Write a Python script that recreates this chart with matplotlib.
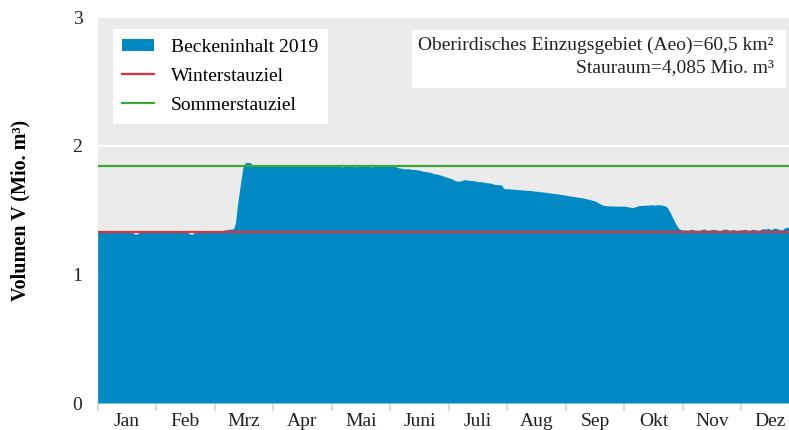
import matplotlib
matplotlib.use("Agg")
import matplotlib.pyplot as plt
from matplotlib.patches import Patch, Rectangle
from matplotlib.lines import Line2D
import numpy as np

# Monatsnamen
monate = ["Jan", "Feb", "Mrz", "Apr", "Mai", "Juni", "Juli", "Aug", "Sep", "Okt", "Nov", "Dez"]

# Beckeninhalt 2019, Tageswerte in Mio. m³
jan = [1.335, 1.34, 1.335, 1.33, 1.34, 1.335, 1.33, 1.335, 1.34, 1.335, 1.33, 1.335, 1.34, 1.335,
       1.33, 1.335, 1.34, 1.335, 1.33, 1.32, 1.31, 1.315, 1.325, 1.335, 1.34, 1.335, 1.33, 1.335,
       1.34, 1.335, 1.33]
feb = [1.335, 1.34, 1.335, 1.33, 1.335, 1.34, 1.335, 1.33, 1.335, 1.34, 1.335, 1.33, 1.335, 1.34,
       1.335, 1.325, 1.315, 1.31, 1.32, 1.335, 1.34, 1.335, 1.33, 1.335, 1.34, 1.335, 1.335, 1.34]
mrz = [1.335, 1.335, 1.34, 1.335, 1.34, 1.345, 1.345, 1.35, 1.35, 1.352, 1.355, 1.40, 1.53, 1.64,
       1.74, 1.83, 1.865, 1.87, 1.87, 1.865, 1.85, 1.845, 1.84, 1.845, 1.84, 1.845, 1.85, 1.84,
       1.845, 1.84, 1.845]
apr = [1.845, 1.84, 1.845, 1.845, 1.85, 1.84, 1.845, 1.845, 1.84, 1.845, 1.85, 1.845, 1.84, 1.845,
       1.845, 1.85, 1.852, 1.85, 1.845, 1.84, 1.845, 1.845, 1.84, 1.845, 1.845, 1.84, 1.845, 1.84,
       1.845, 1.845]
mai = [1.84, 1.845, 1.84, 1.84, 1.845, 1.84, 1.835, 1.84, 1.845, 1.84, 1.84, 1.845, 1.84, 1.835,
       1.84, 1.84, 1.845, 1.84, 1.84, 1.845, 1.84, 1.835, 1.84, 1.845, 1.84, 1.84, 1.845, 1.845,
       1.85, 1.85, 1.845]
jun = [1.845, 1.845, 1.84, 1.835, 1.83, 1.825, 1.825, 1.82, 1.82, 1.82, 1.82, 1.815, 1.815, 1.815,
       1.81, 1.81, 1.805, 1.80, 1.80, 1.795, 1.795, 1.79, 1.785, 1.78, 1.78, 1.775, 1.77, 1.765,
       1.76, 1.755]
jul = [1.75, 1.745, 1.74, 1.73, 1.725, 1.725, 1.725, 1.73, 1.735, 1.735, 1.733, 1.73, 1.73, 1.728,
       1.725, 1.722, 1.72, 1.72, 1.718, 1.715, 1.712, 1.71, 1.71, 1.705, 1.70, 1.698, 1.697, 1.696,
       1.695, 1.67, 1.665]
aug = [1.665, 1.665, 1.663, 1.662, 1.66, 1.66, 1.658, 1.657, 1.656, 1.655, 1.653, 1.652, 1.652, 1.65,
       1.648, 1.646, 1.645, 1.643, 1.641, 1.64, 1.638, 1.636, 1.634, 1.632, 1.63, 1.628, 1.626,
       1.624, 1.622, 1.62, 1.618]
sep = [1.615, 1.612, 1.61, 1.607, 1.605, 1.603, 1.60, 1.598, 1.596, 1.593, 1.59, 1.586, 1.582, 1.578,
       1.574, 1.57, 1.562, 1.553, 1.545, 1.538, 1.535, 1.533, 1.532, 1.532, 1.531, 1.53, 1.53, 1.53,
       1.53, 1.53]
okt = [1.53, 1.528, 1.525, 1.522, 1.52, 1.52, 1.525, 1.53, 1.535, 1.535, 1.535, 1.537, 1.538, 1.538,
       1.54, 1.54, 1.538, 1.54, 1.54, 1.54, 1.538, 1.535, 1.53, 1.515, 1.49, 1.46, 1.43, 1.40, 1.375,
       1.355, 1.348]
nov = [1.345, 1.345, 1.343, 1.345, 1.348, 1.35, 1.345, 1.343, 1.342, 1.345, 1.35, 1.352, 1.345, 1.342,
       1.345, 1.348, 1.35, 1.345, 1.343, 1.34, 1.345, 1.35, 1.352, 1.347, 1.343, 1.345, 1.348, 1.345,
       1.342, 1.345]
dez = [1.345, 1.348, 1.35, 1.345, 1.342, 1.345, 1.35, 1.348, 1.345, 1.342, 1.345, 1.352, 1.355, 1.35,
       1.36, 1.352, 1.348, 1.355, 1.36, 1.355, 1.35, 1.345, 1.348, 1.36, 1.365, 1.365, 1.365, 1.365,
       1.365, 1.365, 1.365]

winterstauziel = 1.33
sommerstauziel = 1.84

# x-Position: Monate gleich breit, Tage gleichmaessig innerhalb des Monats
alle_monate = [jan, feb, mrz, apr, mai, jun, jul, aug, sep, okt, nov, dez]
x = []
y = []
for m, werte in enumerate(alle_monate):
    n = len(werte)
    for d, v in enumerate(werte):
        x.append(m + d / n)
        y.append(v)
x = np.array(x)
y = np.array(y)

blau = "#0089c2"
rot = "#e4323c"
gruen = "#3aaa35"
schrift = "Liberation Serif"
fs = 14

fig = plt.figure(figsize=(7.89, 4.30), dpi=100)
ax = fig.add_axes([97.7 / 789, 1 - 403 / 430, 702 / 789, 386 / 430])
ax.set_facecolor("#ebebeb")

ax.fill_between(x, y, 0, color=blau, linewidth=0, zorder=1)
ax.axhline(winterstauziel, color=rot, linewidth=1.6, zorder=3)
ax.axhline(sommerstauziel, color=gruen, linewidth=1.6, zorder=3)

ax.set_xlim(0, 12)
ax.set_ylim(0, 3)
ax.set_yticks([0, 1, 2, 3])
ax.set_axisbelow(True)
ax.grid(axis="y", color="white", linewidth=1.5)

ax.set_xticks(np.arange(0, 12))
ax.set_xticklabels([])
ax.set_xticks(np.arange(12) + 0.5, minor=True)
ax.set_xticklabels(monate, minor=True)
ax.tick_params(axis="x", which="major", length=6, width=1.5, color="#dcdcdc")
ax.tick_params(axis="x", which="minor", length=0, pad=7, labelsize=fs, labelcolor="#222222")
ax.tick_params(axis="y", length=0, pad=11, labelsize=fs, labelcolor="#222222")
for lab in ax.get_xticklabels(minor=True) + ax.get_yticklabels():
    lab.set_family(schrift)

for s in ax.spines.values():
    s.set_visible(False)

ax.set_ylabel("Volumen V (Mio. m³)", family=schrift, fontweight="bold", fontsize=14.5)
ax.yaxis.set_label_coords(-0.096, 0.5)

handles = [
    Patch(facecolor=blau, edgecolor="none", label="Beckeninhalt 2019"),
    Line2D([], [], color=rot, linewidth=1.6, label="Winterstauziel"),
    Line2D([], [], color=gruen, linewidth=1.6, label="Sommerstauziel"),
]
leg = ax.legend(handles=handles, loc="upper left", bbox_to_anchor=(15 / 702, 1 - 12 / 386),
                borderaxespad=0, frameon=True, fancybox=False, framealpha=1,
                edgecolor="none", facecolor="white", prop={"family": schrift, "size": fs},
                handlelength=1.6, handleheight=0.55, handletextpad=0.9, labelspacing=0.62,
                borderpad=0.5)

# Infokasten oben rechts
ax.add_patch(Rectangle((0.4477, 0.816), 0.5328, 0.150, transform=ax.transAxes,
                       facecolor="white", edgecolor="none", zorder=4))
ax.text((774 - 97.7) / 702, (403 - 37) / 386,
        "Oberirdisches Einzugsgebiet (Aeo)=60,5 km²\nStauraum=4,085 Mio. m³",
        transform=ax.transAxes, ha="right", va="top", family=schrift, fontsize=fs,
        color="#222222", linespacing=1.35, zorder=5, multialignment="right")

fig.savefig("out.png", dpi=100)
